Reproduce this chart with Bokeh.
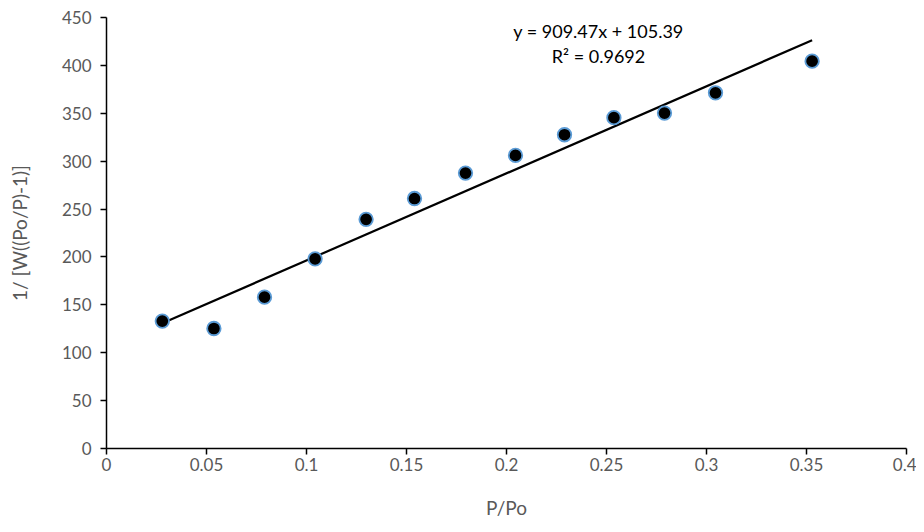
from bokeh.plotting import figure
from bokeh.models import Range1d, FixedTicker, Label
from bokeh.embed import file_html
from bokeh.resources import INLINE

# Data
p_po = [0.0279, 0.0537, 0.0790, 0.1043, 0.1298, 0.1540, 0.1795, 0.2045, 0.2290, 0.2537, 0.2790, 0.3045, 0.3528]
bet_y = [133.0, 125.3, 158.0, 198.0, 239.3, 261.0, 287.6, 306.0, 327.6, 345.4, 350.2, 371.4, 404.4]

slope = 909.47
intercept = 105.39
r_squared = 0.9692

x_ticks = [0, 0.05, 0.1, 0.15, 0.2, 0.25, 0.3, 0.35, 0.4]
x_tick_labels = ["0", "0.05", "0.1", "0.15", "0.2", "0.25", "0.3", "0.35", "0.4"]
y_ticks = [0, 50, 100, 150, 200, 250, 300, 350, 400, 450]

FONT = "Lato"
GREY = "#595959"

p = figure(frame_width=800, frame_height=431, output_backend="svg", toolbar_location=None,
           x_range=Range1d(0, 0.4), y_range=Range1d(0, 450),
           min_border_left=106, min_border_right=10, min_border_top=17, min_border_bottom=10)
p.outline_line_color = None
p.xgrid.visible = False
p.ygrid.visible = False

# trendline
x0, x1 = p_po[0], p_po[-1]
p.line([x0, x1], [slope * x0 + intercept, slope * x1 + intercept], line_color="black", line_width=2.2)

p.scatter(p_po, bet_y, size=13.5, fill_color="black", line_color="#5B9BD5", line_width=1.8)

for ax in (p.xaxis[0], p.yaxis[0]):
    ax.axis_line_color = "black"
    ax.axis_line_width = 1.5
    ax.major_tick_line_color = "black"
    ax.major_tick_line_width = 1.5
    ax.major_tick_out = 6
    ax.major_tick_in = 0
    ax.minor_tick_line_color = None
    ax.major_label_text_font = FONT
    ax.major_label_text_font_size = "17px"
    ax.major_label_text_color = GREY
    ax.axis_label_text_font = FONT
    ax.axis_label_text_font_size = "19px"
    ax.axis_label_text_color = GREY
    ax.axis_label_text_font_style = "normal"

p.xaxis.ticker = FixedTicker(ticks=x_ticks)
p.xaxis.major_label_overrides = {t: l for t, l in zip(x_ticks, x_tick_labels)}
p.xaxis.major_label_standoff = 3
p.xaxis.axis_label = "P/Po"
p.xaxis.axis_label_standoff = 22

p.yaxis.ticker = FixedTicker(ticks=y_ticks)
p.yaxis.major_label_standoff = 9
p.yaxis.axis_label = "1/ [W((Po/P)-1)]"
p.yaxis.axis_label_standoff = 28

p.add_layout(Label(x=0.246, y=436, text=f"y = {slope}x + {intercept}", text_align="center",
                   text_baseline="middle", text_font=FONT, text_font_size="18px", text_color="black"))
p.add_layout(Label(x=0.246, y=410, text=f"R² = {r_squared}", text_align="center",
                   text_baseline="middle", text_font=FONT, text_font_size="18px", text_color="black"))

open("out.html", "w").write(file_html(p, INLINE))
